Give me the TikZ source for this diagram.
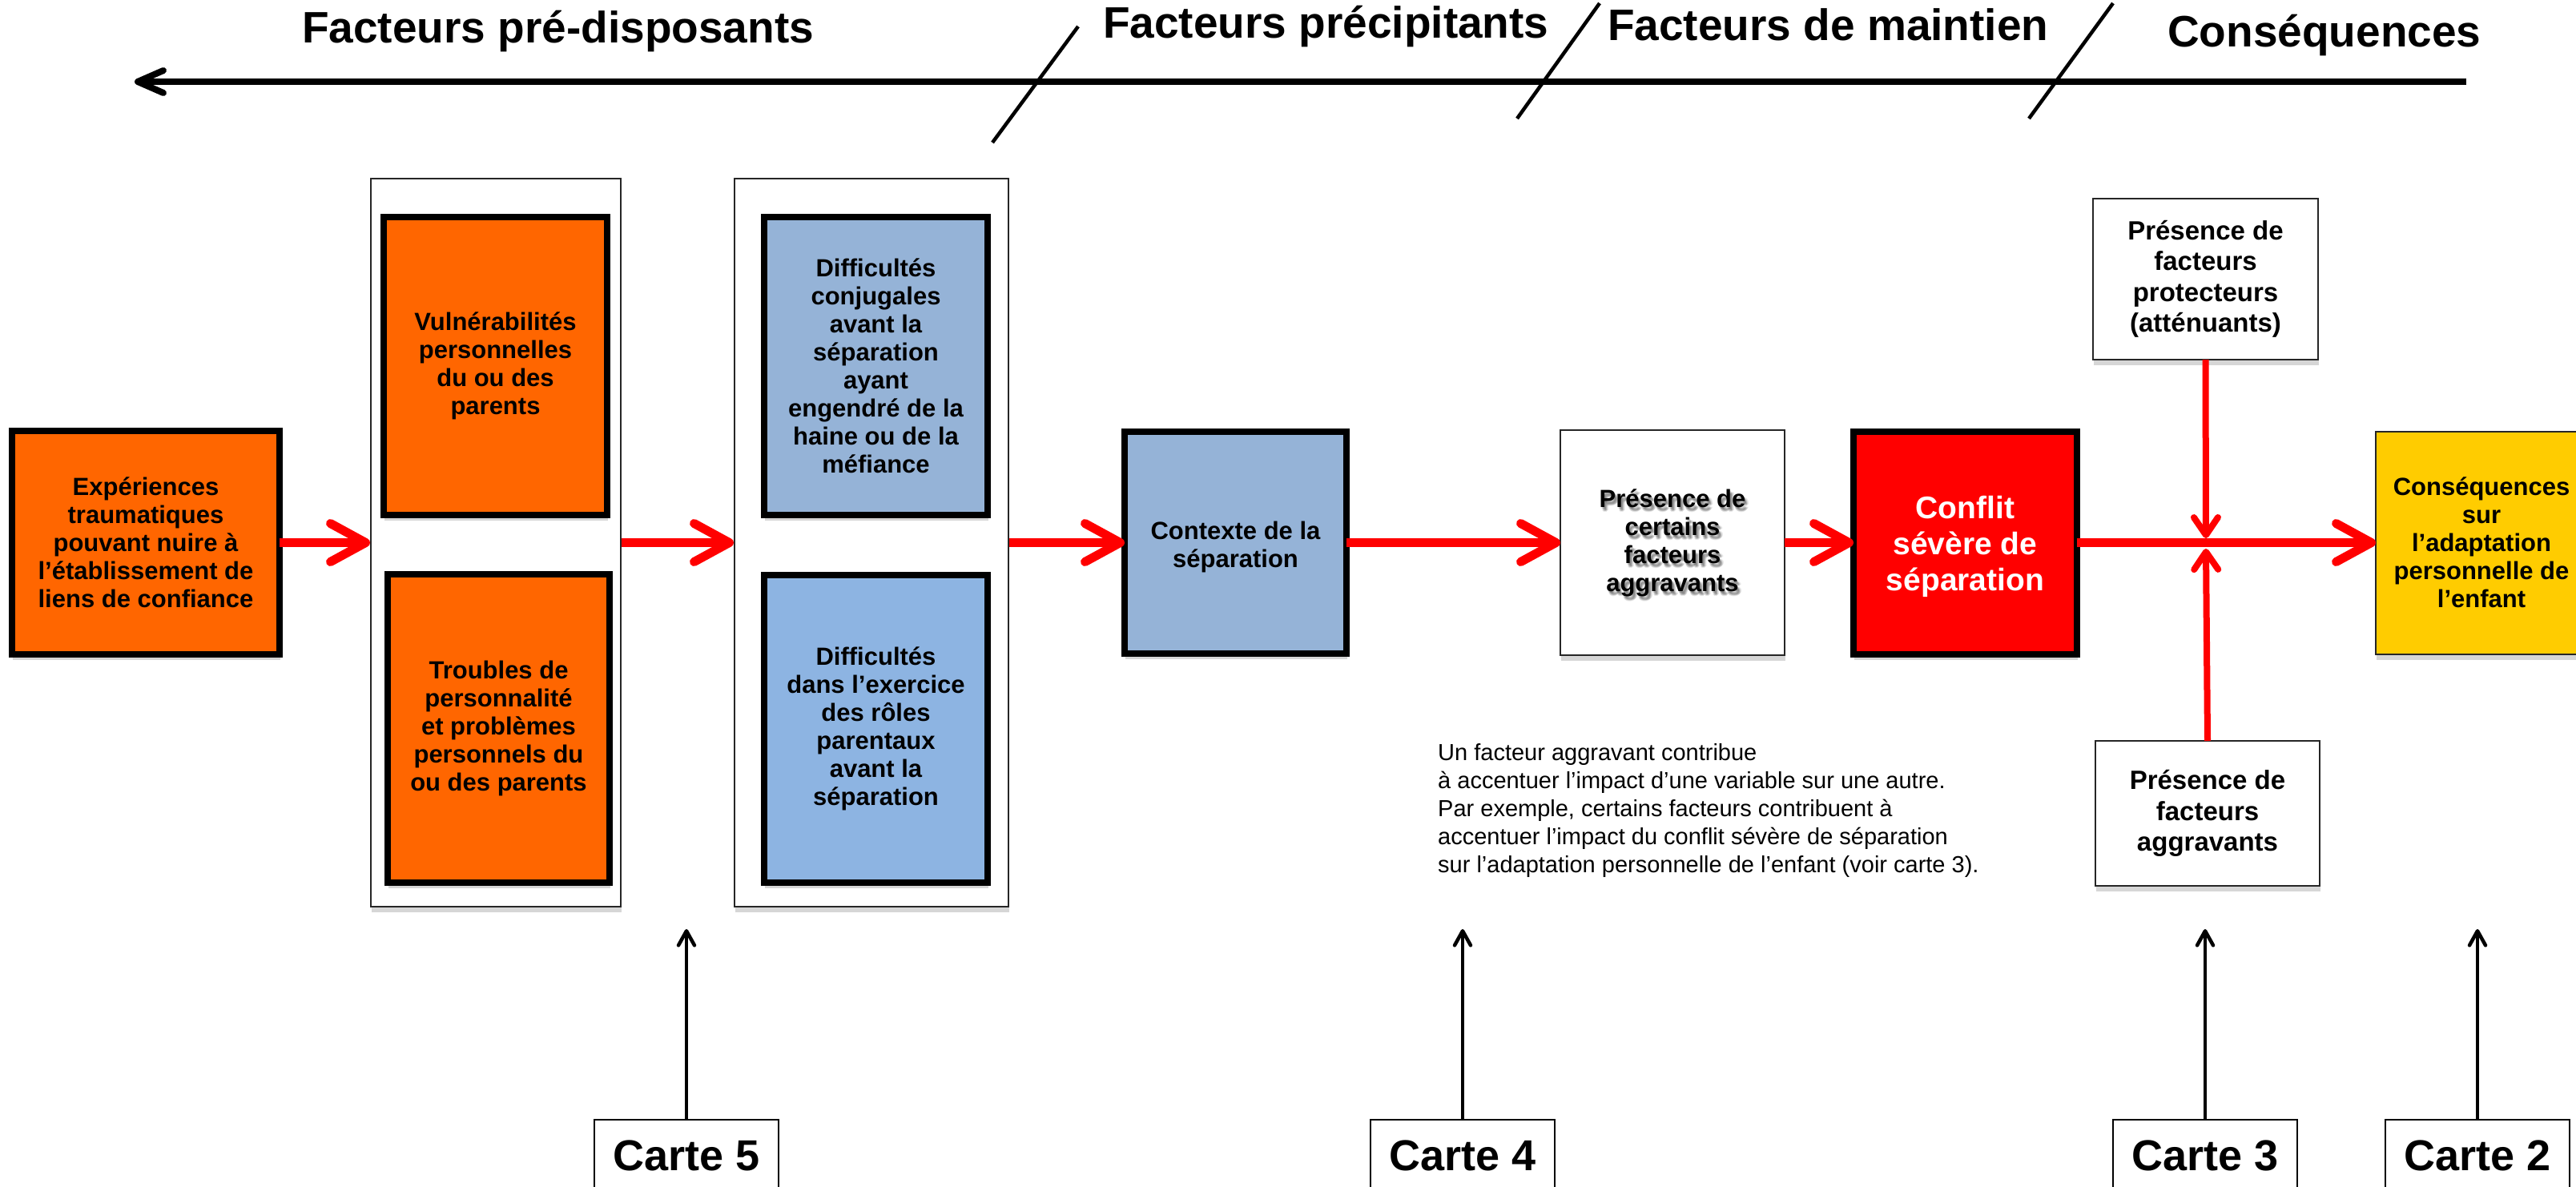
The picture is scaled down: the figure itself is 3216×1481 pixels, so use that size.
\documentclass[tikz,border=0pt]{standalone}
\usepackage{fontspec}
\setmainfont{Liberation Sans}
\usetikzlibrary{arrows.meta,shadows}

\definecolor{orangebox}{RGB}{255,102,0}
\definecolor{bluebox}{RGB}{149,179,215}
\definecolor{bluebox2}{RGB}{141,180,226}
\definecolor{redbox}{RGB}{255,0,0}
\definecolor{yellowbox}{RGB}{255,204,0}
\definecolor{linkred}{RGB}{255,0,0}

\tikzset{
  boxtxt/.style={align=center, inner sep=0pt, outer sep=0pt,
    font=\fontsize{31pt}{35pt}\selectfont\bfseries},
  bigboxtxt/.style={font=\fontsize{33pt}{38.5pt}\selectfont\bfseries},
  softshadow/.style={drop shadow={shadow xshift=1pt, shadow yshift=-7pt,
    opacity=0.16, fill=black}},
  heavybox/.style={boxtxt, draw=black, line width=8pt, softshadow},
  lightbox/.style={boxtxt, draw=black!85, line width=2pt, fill=white, softshadow},
  groupbox/.style={draw=black!85, line width=2pt, fill=white, inner sep=0pt, softshadow},
  headtxt/.style={anchor=base west, inner sep=0pt,
    font=\fontsize{55pt}{60pt}\selectfont\bfseries},
  cartebox/.style={draw=black, line width=2.2pt, fill=white, inner sep=0pt,
    minimum width=230pt, minimum height=89pt,
    font=\fontsize{54pt}{60pt}\selectfont\bfseries},
  redlink/.style={draw=linkred, line width=11pt,
    -{Straight Barb[length=44pt,width=48pt,round]}},
  redlinkv/.style={draw=linkred, line width=8pt,
    -{Straight Barb[length=22pt,width=30pt,round]}},
  cardlink/.style={draw=black, line width=4.5pt,
    -{Straight Barb[length=18pt,width=20pt,round]}},
  slash/.style={draw=black, line width=4.5pt},
}

\begin{document}
\begin{tikzpicture}[x=1pt,y=-1pt]
\useasboundingbox (0,0) rectangle (3216,1481);
\fill[white] (0,0) rectangle (3216,1481);
\clip (0,0) rectangle (3216,1481);

% ---- time line with the four phases
\coordinate (tlL) at (168,102);
\coordinate (tlR) at (3079,102);
\draw[line width=8pt, -{Straight Barb[length=32pt,width=28pt,round]}] (tlR) -- (tlL);

\coordinate (s1a) at (1346,33);  \coordinate (s1b) at (1239,178);
\coordinate (s2a) at (1997,4);   \coordinate (s2b) at (1894,148);
\coordinate (s3a) at (2638,4);   \coordinate (s3b) at (2533,148);
\draw[slash] (s1a) -- (s1b);
\draw[slash] (s2a) -- (s2b);
\draw[slash] (s3a) -- (s3b);

\node[headtxt] (h1) at (377,53) {Facteurs pré-disposants};
\node[headtxt] (h2) at (1377,47) {Facteurs précipitants};
\node[headtxt] (h3) at (2007,50) {Facteurs de maintien};
\node[headtxt] (h4) at (2706,58) {Conséquences};

% ---- predisposing factors
\node[heavybox, fill=orangebox, minimum width=334pt, minimum height=279pt]
  (exp) at (182,677.5)
  {Expériences\\traumatiques\\pouvant nuire à\\l’établissement de\\liens de confiance};

\node[groupbox, minimum width=312pt, minimum height=909pt] (grp1) at (619,677.5) {};
\node[heavybox, fill=orangebox, minimum width=279pt, minimum height=372pt]
  (vul) at (618.5,457) {Vulnérabilités\\personnelles\\du ou des\\parents};
\node[heavybox, fill=orangebox, minimum width=277pt, minimum height=385pt]
  (trb) at (622.5,909.5) {Troubles de\\personnalité\\et problèmes\\personnels du\\ou des parents};

\node[groupbox, minimum width=342pt, minimum height=909pt] (grp2) at (1088,677.5) {};
\node[heavybox, fill=bluebox, minimum width=279pt, minimum height=372pt]
  (conj) at (1093.5,457)
  {Difficultés\\conjugales\\avant la\\séparation\\ayant\\engendré de la\\haine ou de la\\méfiance};
\node[heavybox, fill=bluebox2, minimum width=279pt, minimum height=384pt]
  (role) at (1093.5,910)
  {Difficultés\\dans l’exercice\\des rôles\\parentaux\\avant la\\séparation};

% ---- precipitating and maintaining factors
\node[heavybox, fill=bluebox, minimum width=277pt, minimum height=277pt]
  (ctx) at (1542.5,677.5) {};
\node[boxtxt, yshift=-5pt] (ctxtxt) at (ctx) {Contexte de la\\séparation};

\node[lightbox, minimum width=280pt, minimum height=281pt] (cert) at (2088,677.5) {};
\foreach \dx/\dy in {1/2,2/3,3/4,4/5,3/6,5/4,2/5}{
  \node[boxtxt, text=black, opacity=0.09, xshift=\dx pt, yshift=-\dy pt] at (cert)
    {Présence de\\certains\\facteurs\\aggravants};
}
\node[boxtxt] (certtxt) at (cert) {Présence de\\certains\\facteurs\\aggravants};

\node[heavybox, fill=redbox, minimum width=279pt, minimum height=278pt]
  (conf) at (2453.5,677.5) {};
\node[boxtxt, text=white, yshift=-5pt, font=\fontsize{39pt}{45pt}\selectfont\bfseries]
  (conftxt) at (conf) {Conflit\\sévère de\\séparation};

% ---- moderators and consequences
\node[lightbox, bigboxtxt, minimum width=281pt, minimum height=201pt]
  (prot) at (2753.5,348.5) {Présence de\\facteurs\\protecteurs\\(atténuants)};
\node[lightbox, bigboxtxt, minimum width=280pt, minimum height=181pt]
  (aggr) at (2756,1015.5) {Présence de\\facteurs\\aggravants};
\node[lightbox, fill=yellowbox, minimum width=264pt, minimum height=278pt]
  (cons) at (3098,677.5) {Conséquences\\sur\\l’adaptation\\personnelle de\\l’enfant};

% ---- causal links
\draw[redlink] (exp.east) -- (grp1.west);
\draw[redlink] (grp1.east) -- (grp2.west);
\draw[redlink] (grp2.east) -- (ctx.west);
\draw[redlink] (ctx.east) -- (cert.west);
\draw[redlink] (cert.east) -- (conf.west);
\draw[redlink] (conf.east) -- (cons.west);

\coordinate (meetA) at (2754,672);
\coordinate (meetB) at (2754,685);
\draw[redlinkv] (prot.south) -- (meetA);
\draw[redlinkv] (aggr.north) -- (meetB);

% ---- explanatory note
\node[anchor=base west, inner sep=0pt, font=\fontsize{29pt}{35pt}\selectfont]
  (note) at (1795,949)
  {\begin{tabular}[t]{@{}l@{}}
   Un facteur aggravant contribue\\
   à accentuer l’impact d’une variable sur une autre.\\
   Par exemple, certains facteurs contribuent à\\
   accentuer l’impact du conflit sévère de séparation\\
   sur l’adaptation personnelle de l’enfant (voir carte 3).
   \end{tabular}};

% ---- references to the other maps
\node[cartebox] (c5) at (857,1442.5) {Carte 5};
\node[cartebox] (c4) at (1826,1442.5) {Carte 4};
\node[cartebox] (c3) at (2753,1442.5) {Carte 3};
\node[cartebox] (c2) at (3093,1442.5) {Carte 2};

\coordinate (t5) at (857,1160);
\coordinate (t4) at (1826,1160);
\coordinate (t3) at (2753,1160);
\coordinate (t2) at (3093,1160);
\draw[cardlink] (c5.north) -- (t5);
\draw[cardlink] (c4.north) -- (t4);
\draw[cardlink] (c3.north) -- (t3);
\draw[cardlink] (c2.north) -- (t2);
\end{tikzpicture}
\end{document}
